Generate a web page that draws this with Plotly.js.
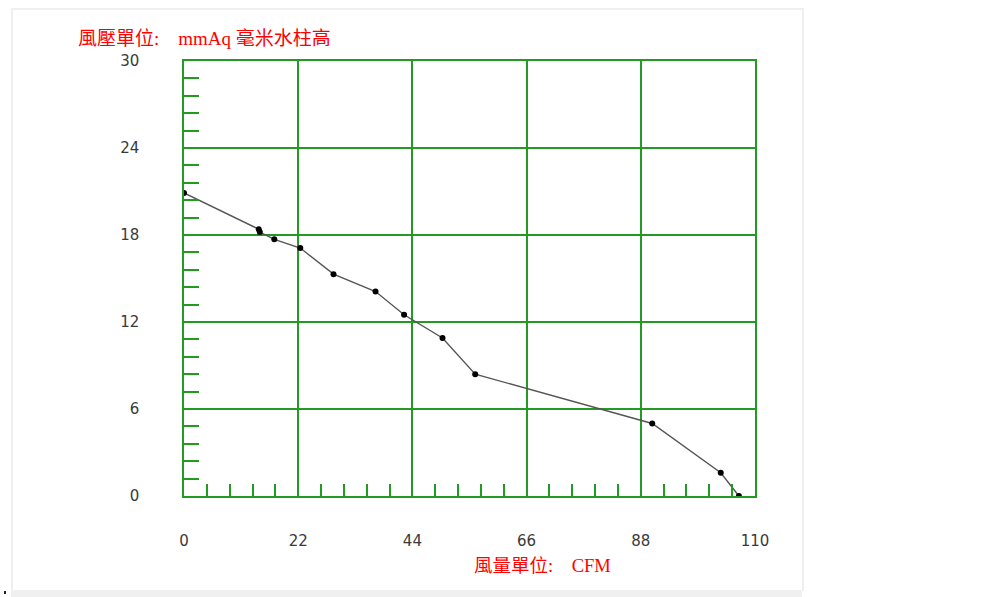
<!DOCTYPE html>
<html>
<head>
<meta charset="utf-8">
<script src="https://cdn.plot.ly/plotly-3.0.1.min.js"></script>
<style>
    body { margin: 0; background: #ffffff; }
    #frame {
        position: absolute; left: 11px; top: 8px; width: 789px; height: 581px;
        border: 2px solid #efefef; border-bottom: none;
    }
    #strip {
        position: absolute; left: 11px; top: 590px; width: 791px; height: 7px;
        background: #f0f0f0;
    }
    #dot { position: absolute; left: 4px; top: 591px; width: 2px; height: 3px; background: #222; }
    #chart { position: absolute; left: 0; top: 0; width: 981px; height: 597px; }
</style>
</head>
<body>
<div id="frame"></div>
<div id="strip"></div>
<div id="dot"></div>
<div id="chart"></div>
<script>
// Fan curve: airflow (CFM) vs static pressure (mmAq)
const airflow = [0, 14.4, 14.6, 17.4, 22.4, 28.8, 36.9, 42.4, 49.8, 56.1, 90.2, 103.4, 106.9];
const pressure = [20.9, 18.4, 18.2, 17.7, 17.1, 15.3, 14.1, 12.5, 10.9, 8.4, 5.0, 1.6, 0];

const xRange = [0, 110];
const yRange = [0, 30];
const xStep = 22;
const yStep = 6;

const gridGreen = '#239b23';
const labelFont = { family: 'DejaVu Sans, Verdana, sans-serif', size: 15, color: '#3a3a3a' };
const titleFont = { family: 'Liberation Serif, Noto Sans CJK TC, serif', size: 19, color: '#ff0000' };

const curve = {
    x: airflow,
    y: pressure,
    mode: 'lines+markers',
    type: 'scatter',
    line: { color: '#555', width: 1.4 },
    marker: { color: '#000', size: 6 },
    hoverinfo: 'x+y'
};

const layout = {
    width: 981,
    height: 597,
    plot_bgcolor: 'rgba(0,0,0,0)',
    paper_bgcolor: 'rgba(0,0,0,0)',
    margin: { l: 184, r: 226, t: 61, b: 101 },
    showlegend: false,
    xaxis: {
        range: xRange,
        tickmode: 'linear',
        tick0: 0,
        dtick: xStep,
        tickfont: labelFont,
        ticks: '',
        ticklabelstandoff: 30,
        showgrid: true,
        gridcolor: gridGreen,
        gridwidth: 1.5,
        zeroline: false,
        showline: true,
        linecolor: gridGreen,
        linewidth: 1.5,
        mirror: true,
        fixedrange: true,
        minor: { dtick: xStep / 5, tick0: 0, ticks: 'inside', ticklen: 12, tickwidth: 1.5, tickcolor: gridGreen, showgrid: false }
    },
    yaxis: {
        range: yRange,
        tickmode: 'linear',
        tick0: 0,
        dtick: yStep,
        tickfont: labelFont,
        ticks: '',
        ticklabelstandoff: 40,
        showgrid: true,
        gridcolor: gridGreen,
        gridwidth: 1.5,
        zeroline: false,
        showline: true,
        linecolor: gridGreen,
        linewidth: 1.5,
        mirror: true,
        fixedrange: true,
        minor: { dtick: yStep / 5, tick0: 0, ticks: 'inside', ticklen: 15, tickwidth: 1.5, tickcolor: gridGreen, showgrid: false }
    },
    annotations: [
        {
            text: '風壓單位:&nbsp;&nbsp;&nbsp;&nbsp;mmAq 毫米水柱高',
            xref: 'paper', yref: 'paper',
            x: -0.189, y: 1.052,
            xanchor: 'left', yanchor: 'middle',
            showarrow: false,
            font: titleFont
        },
        {
            text: '風量單位:&nbsp;&nbsp;&nbsp;&nbsp;CFM',
            xref: 'paper', yref: 'paper',
            x: 0.504, y: -0.161,
            xanchor: 'left', yanchor: 'middle',
            showarrow: false,
            font: { ...titleFont, size: 18.5 }
        }
    ]
};

const config = { displayModeBar: false, responsive: false };

Plotly.newPlot('chart', [curve], layout, config);
</script>
</body>
</html>
